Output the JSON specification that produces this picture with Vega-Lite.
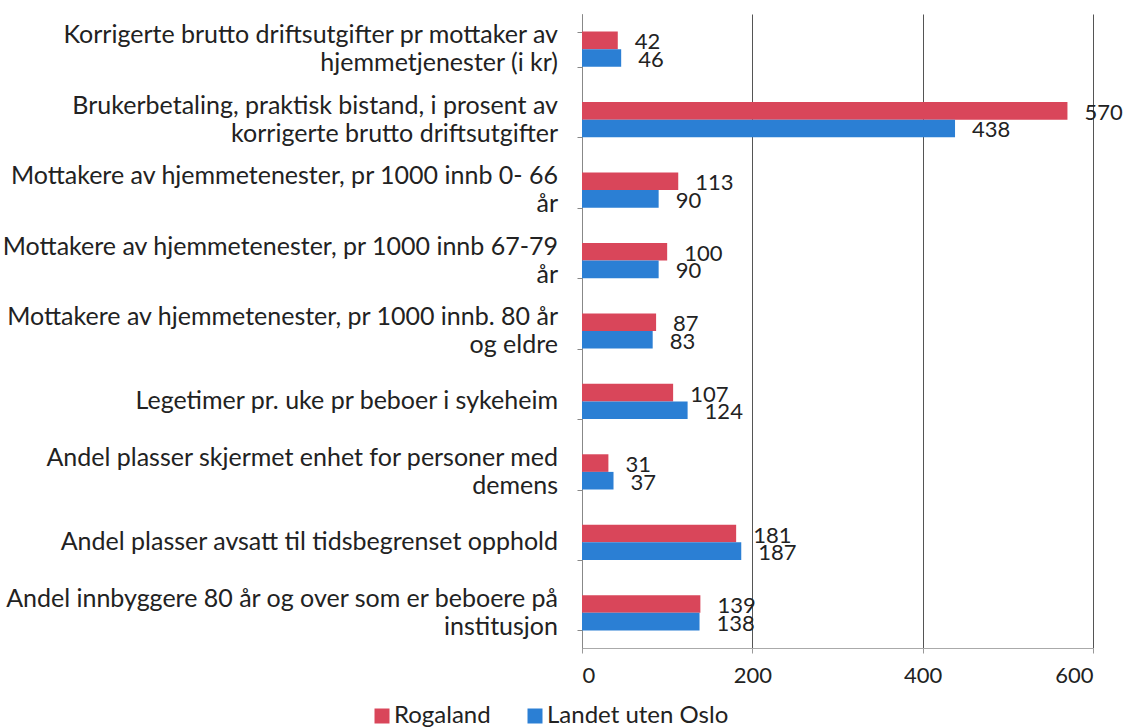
{
  "$schema": "https://vega.github.io/schema/vega-lite/v6.json",
  "width": 511,
  "height": 634,
  "autosize": {"type": "none"},
  "padding": {"left": 582, "top": 14, "right": 32, "bottom": 80},
  "background": "white",
  "config": {
    "view": {"stroke": null},
    "font": "Lato",
    "text": {"font": "Lato"}
  },
  "datasets": {
    "rows": [
      {"kategori": "K1", "serie": "Rogaland", "verdi": 42},
      {"kategori": "K1", "serie": "Landet uten Oslo", "verdi": 46},
      {"kategori": "K2", "serie": "Rogaland", "verdi": 570},
      {"kategori": "K2", "serie": "Landet uten Oslo", "verdi": 438},
      {"kategori": "K3", "serie": "Rogaland", "verdi": 113},
      {"kategori": "K3", "serie": "Landet uten Oslo", "verdi": 90},
      {"kategori": "K4", "serie": "Rogaland", "verdi": 100},
      {"kategori": "K4", "serie": "Landet uten Oslo", "verdi": 90},
      {"kategori": "K5", "serie": "Rogaland", "verdi": 87},
      {"kategori": "K5", "serie": "Landet uten Oslo", "verdi": 83},
      {"kategori": "K6", "serie": "Rogaland", "verdi": 107},
      {"kategori": "K6", "serie": "Landet uten Oslo", "verdi": 124},
      {"kategori": "K7", "serie": "Rogaland", "verdi": 31},
      {"kategori": "K7", "serie": "Landet uten Oslo", "verdi": 37},
      {"kategori": "K8", "serie": "Rogaland", "verdi": 181},
      {"kategori": "K8", "serie": "Landet uten Oslo", "verdi": 187},
      {"kategori": "K9", "serie": "Rogaland", "verdi": 139},
      {"kategori": "K9", "serie": "Landet uten Oslo", "verdi": 138}
    ],
    "labels": [
      {"kategori": "K1", "linje1": "Korrigerte brutto driftsutgifter pr mottaker av", "linje2": "hjemmetjenester (i kr)"},
      {"kategori": "K2", "linje1": "Brukerbetaling, praktisk bistand, i prosent av", "linje2": "korrigerte brutto driftsutgifter"},
      {"kategori": "K3", "linje1": "Mottakere av hjemmetenester, pr 1000 innb 0- 66", "linje2": "år"},
      {"kategori": "K4", "linje1": "Mottakere av hjemmetenester, pr 1000 innb 67-79", "linje2": "år"},
      {"kategori": "K5", "linje1": "Mottakere av hjemmetenester, pr 1000 innb. 80 år", "linje2": "og eldre"},
      {"kategori": "K6", "linje1": "Legetimer pr. uke pr beboer i sykeheim", "linje2": ""},
      {"kategori": "K7", "linje1": "Andel plasser  skjermet enhet for personer med", "linje2": "demens"},
      {"kategori": "K8", "linje1": "Andel plasser avsatt til tidsbegrenset opphold", "linje2": ""},
      {"kategori": "K9", "linje1": "Andel innbyggere 80 år og over som er beboere på", "linje2": "institusjon"}
    ]
  },
  "encoding": {
    "y": {
      "field": "kategori",
      "type": "nominal",
      "sort": ["K1", "K2", "K3", "K4", "K5", "K6", "K7", "K8", "K9"],
      "scale": {"paddingInner": 0.5, "paddingOuter": 0.25},
      "axis": {
        "title": null,
        "labels": false,
        "tickBand": "extent",
        "tickSize": 5,
        "tickColor": "#888888",
        "domainColor": "#888888",
        "grid": false
      }
    }
  },
  "layer": [
    {
      "data": {"name": "rows"},
      "mark": {"type": "bar", "stroke": null},
      "encoding": {
        "x": {
          "field": "verdi",
          "type": "quantitative",
          "scale": {"domain": [0, 600], "nice": false},
          "axis": {
            "title": null,
            "values": [0, 200, 400, 600],
            "labelFont": "Lato",
            "labelFontSize": 22,
            "labelColor": "#222222",
            "labelPadding": 12,
            "tickSize": 5,
            "tickColor": "#999999",
            "domainColor": "#aaaaaa",
            "grid": true,
            "gridColor": "#555555",
            "gridWidth": 1
          }
        },
        "yOffset": {"field": "serie", "type": "nominal", "sort": ["Rogaland", "Landet uten Oslo"]},
        "color": {
          "field": "serie",
          "type": "nominal",
          "sort": ["Rogaland", "Landet uten Oslo"],
          "scale": {"domain": ["Rogaland", "Landet uten Oslo"], "range": ["#d9465a", "#2b7fd4"]},
          "legend": {
            "title": null,
            "orient": "none",
            "legendX": -212,
            "legendY": 690,
            "direction": "horizontal",
            "symbolType": "square",
            "symbolSize": 225,
            "symbolStrokeWidth": 0,
            "labelFont": "Lato",
            "labelFontSize": 24,
            "labelColor": "#222222",
            "labelOffset": 0,
            "columnPadding": 32,
            "labelLimit": 400
          }
        }
      }
    },
    {
      "data": {"name": "rows"},
      "mark": {"type": "text", "align": "left", "baseline": "middle", "dx": 17, "dy": 2, "fontSize": 22, "font": "Lato", "color": "#222222"},
      "encoding": {
        "x": {"field": "verdi", "type": "quantitative"},
        "yOffset": {"field": "serie", "type": "nominal", "sort": ["Rogaland", "Landet uten Oslo"]},
        "text": {"field": "verdi", "type": "quantitative"}
      }
    },
    {
      "data": {"name": "labels"},
      "transform": [{"filter": "datum.linje2 == ''"}],
      "mark": {"type": "text", "align": "right", "baseline": "middle", "dx": -24, "fontSize": 25, "font": "Lato", "color": "#222222"},
      "encoding": {
        "x": {"datum": 0, "type": "quantitative"},
        "text": {"field": "linje1", "type": "nominal"}
      }
    },
    {
      "data": {"name": "labels"},
      "transform": [{"filter": "datum.linje2 != ''"}],
      "mark": {"type": "text", "align": "right", "baseline": "middle", "dx": -24, "dy": -14, "fontSize": 25, "font": "Lato", "color": "#222222"},
      "encoding": {
        "x": {"datum": 0, "type": "quantitative"},
        "text": {"field": "linje1", "type": "nominal"}
      }
    },
    {
      "data": {"name": "labels"},
      "transform": [{"filter": "datum.linje2 != ''"}],
      "mark": {"type": "text", "align": "right", "baseline": "middle", "dx": -24, "dy": 14, "fontSize": 25, "font": "Lato", "color": "#222222"},
      "encoding": {
        "x": {"datum": 0, "type": "quantitative"},
        "text": {"field": "linje2", "type": "nominal"}
      }
    }
  ]
}
